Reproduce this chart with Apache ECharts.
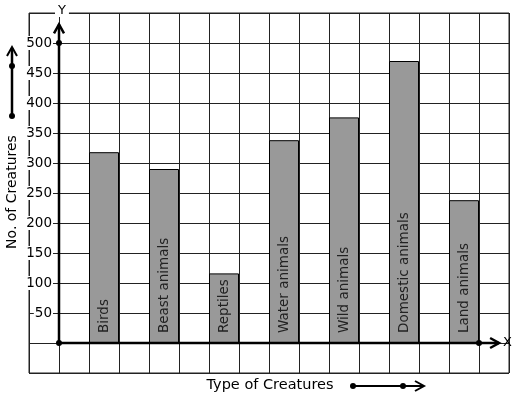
<!DOCTYPE html>
<html>
<head>
<meta charset="utf-8">
<script src="https://cdn.jsdelivr.net/npm/echarts@6/dist/echarts.min.js"></script>
<style>
  html, body { margin: 0; padding: 0; background: #fff; }
  #main { width: 517px; height: 399px; }
</style>
</head>
<body>
<div id="main"></div>
<script>
// categories and values
const categories = ["Birds", "Beast animals", "Reptiles", "Water animals", "Wild animals", "Domestic animals", "Land animals"];
const counts = [318, 290, 116, 338, 376, 470, 238];
// bar centres on the x scale (one grid cell = 1 unit)
const positions = [1.5, 3.5, 5.5, 7.5, 9.5, 11.5, 13.5];
const yTickLabels = [50, 100, 150, 200, 250, 300, 350, 400, 450, 500];

// axis arrows in data units: tip of the y arrow, tip of x arrow, dotted points
const yArrowTip = 531;
const xArrowTip = 14.67;
const axisDots = [[0, 0], [0, 500], [14, 0]];

const chart = echarts.init(document.getElementById("main"));
const FONT = "DejaVu Sans";

function renderAxes(params, api) {
  const o = api.coord([0, 0]);
  const yt = api.coord([0, yArrowTip]);
  const xt = api.coord([xArrowTip, 0]);
  const st = { stroke: "#000", lineWidth: 2.5, fill: null };
  const kids = [
    { type: "line", shape: { x1: o[0], y1: o[1], x2: yt[0], y2: yt[1] }, style: st },
    { type: "polyline", shape: { points: [[yt[0] - 5, yt[1] + 9], yt, [yt[0] + 5, yt[1] + 9]] }, style: st },
    { type: "line", shape: { x1: o[0], y1: o[1], x2: xt[0], y2: xt[1] }, style: st },
    { type: "polyline", shape: { points: [[xt[0] - 9, xt[1] - 5], xt, [xt[0] - 9, xt[1] + 5]] }, style: st },
  ];
  axisDots.forEach((d) => {
    const p = api.coord(d);
    kids.push({ type: "circle", shape: { cx: p[0], cy: p[1], r: 3 }, style: { fill: "#000" } });
  });
  return { type: "group", children: kids };
}

const option = {
  animation: false,
  backgroundColor: "#fff",
  grid: { left: 29, right: 8, top: 13, bottom: 26, show: true, borderColor: "#222", borderWidth: 1 },
  xAxis: {
    type: "value",
    min: -1,
    max: 15,
    interval: 1,
    axisLine: { show: false },
    axisTick: { show: false },
    axisLabel: { show: false },
    splitLine: { show: true, lineStyle: { color: "#222", width: 1 } },
  },
  yAxis: {
    type: "value",
    min: -50,
    max: 550,
    interval: 50,
    offset: -30,
    axisLine: { show: false },
    axisTick: { show: false },
    axisLabel: {
      margin: 6,
      color: "#000",
      fontFamily: FONT,
      fontSize: 13.5,
      backgroundColor: "#fff",
      padding: [0, 1],
      formatter: (v) => (yTickLabels.indexOf(v) >= 0 ? String(v) : ""),
    },
    splitLine: { show: true, lineStyle: { color: "#222", width: 1 } },
  },
  graphic: [
    { type: "text", left: 55, top: 4, z: 10, style: { text: "Y", font: "13px " + FONT, fill: "#000", backgroundColor: "#fff", padding: [0, 3] } },
    { type: "text", x: 503, y: 343, z: 10, style: { text: "X", font: "13px " + FONT, fill: "#000", align: "left", verticalAlign: "middle" } },
    { type: "text", x: 12, y: 192, rotation: Math.PI / 2, z: 10, style: { text: "No. of Creatures", font: "14px " + FONT, fill: "#000", align: "center", verticalAlign: "middle" } },
    { type: "text", x: 270, y: 385, z: 10, style: { text: "Type of Creatures", font: "14.5px " + FONT, fill: "#000", align: "center", verticalAlign: "middle" } },
    // left arrow
    { type: "line", shape: { x1: 12, y1: 116, x2: 12, y2: 48 }, style: { stroke: "#000", lineWidth: 2.5 } },
    { type: "polyline", shape: { points: [[7, 56], [12, 47], [17, 56]] }, style: { stroke: "#000", lineWidth: 2, fill: null } },
    { type: "circle", shape: { cx: 12, cy: 66, r: 3 }, style: { fill: "#000" } },
    { type: "circle", shape: { cx: 12, cy: 116, r: 3 }, style: { fill: "#000" } },
    // bottom arrow
    { type: "line", shape: { x1: 353, y1: 386, x2: 423, y2: 386 }, style: { stroke: "#000", lineWidth: 2 } },
    { type: "polyline", shape: { points: [[415, 381], [424, 386], [415, 391]] }, style: { stroke: "#000", lineWidth: 2, fill: null } },
    { type: "circle", shape: { cx: 353, cy: 386, r: 3 }, style: { fill: "#000" } },
    { type: "circle", shape: { cx: 403, cy: 386, r: 3 }, style: { fill: "#000" } },
  ],
  series: [
    {
      type: "bar",
      barWidth: 30,
      data: counts.map((v, i) => ({ value: [positions[i], v], name: categories[i] })),
      itemStyle: { color: "#999999", borderColor: "#000", borderWidth: 1 },
      label: {
        show: true,
        position: "insideBottom",
        rotate: 90,
        align: "left",
        verticalAlign: "middle",
        distance: 10,
        formatter: (p) => p.name,
        color: "#222",
        fontFamily: FONT,
        fontSize: 13.5,
      },
      z: 3,
    },
    {
      type: "custom",
      data: [[0, 0]],
      renderItem: renderAxes,
      z: 5,
      silent: true,
    },
  ],
};

chart.setOption(option);
</script>
</body>
</html>
